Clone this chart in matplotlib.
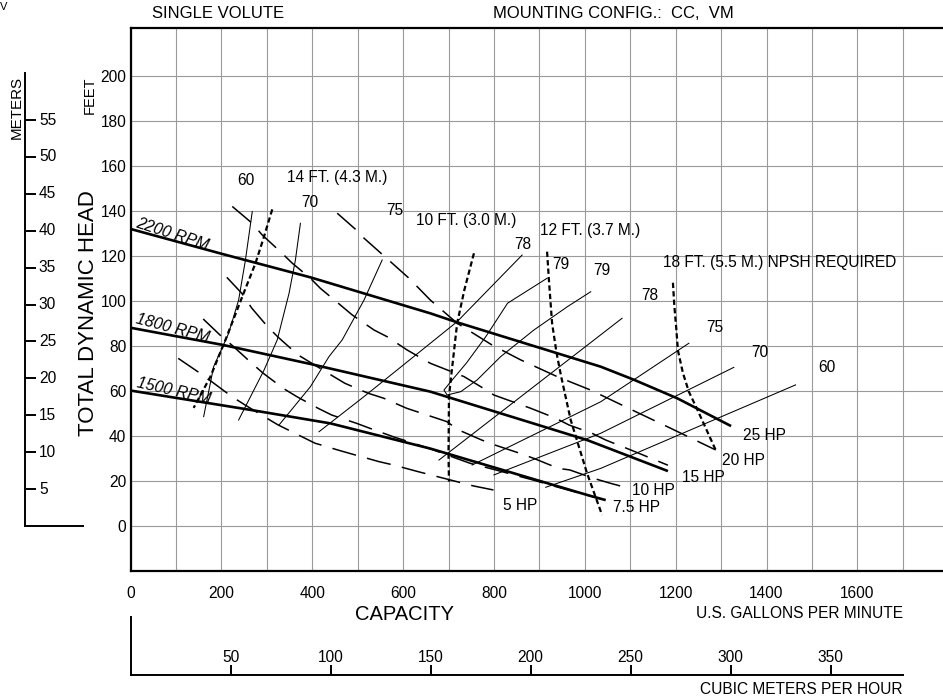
import matplotlib.pyplot as plt
from matplotlib.ticker import MultipleLocator
import numpy as np

plt.rcParams['font.family'] = ['Liberation Sans', 'DejaVu Sans']

FT_PER_M = 3.2808
GPM_PER_M3H = 4.4029

# head / capacity curves (gpm, ft)
rpm_labels = ['2200 RPM', '1800 RPM', '1500 RPM']
rpm_2200_q = [0, 200, 396, 660, 719, 1035, 1108, 1204, 1322]
rpm_2200_h = [132, 121, 110.5, 94.5, 90.5, 70.8, 65, 56.7, 44.4]
rpm_1800_q = [0, 205, 396, 660, 1005, 1183]
rpm_1800_h = [88.1, 80.4, 72, 59.7, 38.2, 24.4]
rpm_1500_q = [0, 264, 440, 660, 1005, 1046]
rpm_1500_h = [60.2, 51.6, 45.6, 34.4, 13.8, 11.5]

# npsh required
npsh_labels = ['14 FT. (4.3 M.)', '10 FT. (3.0 M.)', '12 FT. (3.7 M.)', '18 FT. (5.5 M.) NPSH REQUIRED']
npsh_14_q = [312, 293, 275, 246, 209, 176, 139]
npsh_14_h = [140.7, 128, 116.7, 101.9, 82.7, 66.4, 52.5]
npsh_10_q = [756, 735, 719, 705, 701, 700, 701]
npsh_10_h = [121.2, 105, 90.1, 65, 57.5, 32, 19.7]
npsh_12_q = [917, 921, 928, 938, 948, 969, 1005, 1038]
npsh_12_h = [121.9, 109.3, 90.1, 76.7, 66.4, 47.1, 23.4, 4.9]
npsh_18_q = [1194, 1197, 1201, 1205, 1216, 1229, 1248, 1288]
npsh_18_h = [108.1, 98, 88.6, 78, 68, 59.7, 51.6, 33.8]

# efficiency contours
eff_60l_q = [268, 253, 238, 216, 183, 161]
eff_60l_h = [139.7, 118.2, 100.4, 85.6, 70.8, 48.6]
eff_70l_q = [374, 363, 349, 323, 294, 238]
eff_70l_h = [134.5, 118.2, 103.4, 82.7, 69.3, 47.1]
eff_75l_q = [554, 514, 466, 437, 396, 327]
eff_75l_h = [118.2, 100.4, 82.7, 75.3, 61.9, 44.9]
eff_78l_q = [862, 719, 660, 514, 415]
eff_78l_h = [120.4, 90.8, 81.2, 57.5, 41.9]
eff_79_q = [917, 830, 783, 739, 702, 690, 697, 727, 763, 815, 888, 962, 1013]
eff_79_h = [110.1, 99, 84.4, 72.3, 63.4, 60.4, 58.2, 59.7, 64.9, 75.3, 87.1, 97.5, 104.1]
eff_78r_q = [1082, 679]
eff_78r_h = [92.3, 29.3]
eff_75r_q = [1229, 1035, 752]
eff_75r_h = [81.2, 55.2, 27.1]
eff_70r_q = [1328, 1035, 800]
eff_70r_h = [70.5, 41.2, 22.7]
eff_60r_q = [1464, 1035, 914]
eff_60r_h = [62.7, 25.6, 17.2]
eff_text = ['60', '70', '75', '78', '79', '79', '78', '75', '70', '60']
eff_text_q = [254, 394, 582, 863, 947, 1037, 1143, 1286, 1386, 1532]
eff_text_h = [153.7, 143.8, 140.1, 125.2, 116.4, 113.4, 102.3, 88.3, 77.1, 70.4]

# horsepower lines
hp_20_q = [455, 495, 514, 572, 613, 660, 719, 796, 859, 939, 1013, 1112, 1182, 1288]
hp_20_h = [139, 131.9, 127.9, 117.5, 110.1, 100.4, 90.1, 80.4, 73.8, 66.4, 60.4, 50.8, 44.1, 33.8]
hp_15_q = [224, 268, 290, 330, 356, 396, 418, 462, 488, 536, 565, 609, 660, 734, 771, 800,
           851, 881, 936, 965, 1016, 1046, 1101, 1183]
hp_15_h = [142, 134.5, 129.3, 121.9, 116.8, 110.1, 105.6, 98.2, 93.8, 87.1, 84.1, 78.2, 72.3,
           66.4, 61.9, 58.2, 54.5, 52.3, 47.9, 44.9, 41.2, 38.2, 33.8, 27]
hp_10_q = [212, 245, 267, 303, 325, 369, 443, 472, 523, 557, 608, 641, 696, 722, 773, 802,
           857, 887, 942, 967, 1019, 1056, 1089]
hp_10_h = [110.5, 103.4, 96.8, 88.3, 83.9, 76, 66.9, 63.4, 59, 56.8, 52.3, 50.1, 46.4, 42.7,
           38.2, 36, 32.3, 30.1, 25.6, 24.9, 21.2, 19, 17.2]
hp_75_q = [160, 201, 223, 267, 292, 336, 366, 413, 443, 498, 527, 582, 612, 667, 696, 747,
           806, 857, 887, 931, 1037]
hp_75_h = [92, 84.1, 80.4, 72.3, 67.9, 61.2, 57.5, 52.3, 49.3, 45.6, 43.4, 39.4, 37.5, 33.8,
           31.6, 27.9, 24.8, 22, 20.4, 17.8, 11.9]
hp_5_q = [105, 153, 179, 223, 252, 300, 325, 377, 406, 461, 494, 547, 579, 634, 755, 799]
hp_5_h = [74.5, 67.9, 64.1, 57.5, 53.8, 47.9, 44.9, 39.7, 36.8, 33.5, 31.6, 28.6, 27.1, 24.1,
          17.8, 16]
hp_text = ['25 HP', '20 HP', '15 HP', '10 HP', '7.5 HP', '5 HP']
hp_text_q = [1349, 1301, 1213, 1104, 1063, 821]
hp_text_h = [40.2, 29.2, 21.6, 15.6, 8.2, 8.98]

x_ticks = [0, 200, 400, 600, 800, 1000, 1200, 1400, 1600]
y_ticks = [0, 20, 40, 60, 80, 100, 120, 140, 160, 180, 200]
m_ticks = [5, 10, 15, 20, 25, 30, 35, 40, 45, 50, 55]
m3h_ticks = [50, 100, 150, 200, 250, 300, 350]

W, H = 943, 700


def px(x, y):
    return x / W, 1 - y / H


fig = plt.figure(figsize=(W / 100, H / 100), dpi=100)
ax = fig.add_axes([130.5 / W, 129 / H, (W - 130.5) / W, 543 / H])
ax.set_xlim(0, (W - 130.5) / 0.4543)
ax.set_ylim(-20, 221.3)
for s in ['left', 'top', 'bottom']:
    ax.spines[s].set_linewidth(1.6)
ax.spines['right'].set_visible(False)
ax.set_xticks(x_ticks)
ax.set_yticks(y_ticks)
ax.xaxis.set_minor_locator(MultipleLocator(100))
ax.grid(True, which='both', color='#9a9a9a', lw=0.8)
ax.tick_params(which='both', length=0, labelsize=11.2)
ax.tick_params(axis='x', pad=11)
ax.tick_params(axis='y', pad=3)
ax.set_axisbelow(True)

head_kw = dict(color='black', lw=1.9, solid_capstyle='butt')
ax.plot(rpm_2200_q, rpm_2200_h, **head_kw)
ax.plot(rpm_1800_q, rpm_1800_h, **head_kw)
ax.plot(rpm_1500_q, rpm_1500_h, **head_kw)
ax.text(9.9, 132.9, rpm_labels[0], rotation=-18, rotation_mode='anchor', style='italic', fontsize=11.5)
ax.text(9.9, 90.2, rpm_labels[1], rotation=-15, rotation_mode='anchor', style='italic', fontsize=11.5)
ax.text(13.2, 61.8, rpm_labels[2], rotation=-13, rotation_mode='anchor', style='italic', fontsize=11.5)

npsh_kw = dict(color='black', lw=1.6, dashes=(2.4, 1.4))
ax.plot(npsh_14_q, npsh_14_h, **npsh_kw)
ax.plot(npsh_10_q, npsh_10_h, **npsh_kw)
ax.plot(npsh_12_q, npsh_12_h, **npsh_kw)
ax.plot(npsh_18_q, npsh_18_h, **npsh_kw)
ax.text(456, 154.7, npsh_labels[0], ha='center', va='center', fontsize=11.2)
ax.text(740, 135.6, npsh_labels[1], ha='center', va='center', fontsize=11.2)
ax.text(1012, 131.2, npsh_labels[2], ha='center', va='center', fontsize=11.2)
ax.text(1173, 117, npsh_labels[3], ha='left', va='center', fontsize=11.2)

eff_kw = dict(color='black', lw=0.75)
for q, h in [(eff_60l_q, eff_60l_h), (eff_70l_q, eff_70l_h), (eff_75l_q, eff_75l_h),
             (eff_78l_q, eff_78l_h), (eff_79_q, eff_79_h), (eff_78r_q, eff_78r_h),
             (eff_75r_q, eff_75r_h), (eff_70r_q, eff_70r_h), (eff_60r_q, eff_60r_h)]:
    ax.plot(q, h, **eff_kw)
for t, q, h in zip(eff_text, eff_text_q, eff_text_h):
    ax.text(q, h, t, ha='center', va='center', fontsize=11.2)

hp_kw = dict(color='black', lw=1.1, dashes=(16, 7.5))
for q, h in [(hp_20_q, hp_20_h), (hp_15_q, hp_15_h), (hp_10_q, hp_10_h),
             (hp_75_q, hp_75_h), (hp_5_q, hp_5_h)]:
    ax.plot(q, h, **hp_kw)
for t, q, h in zip(hp_text, hp_text_q, hp_text_h):
    ax.text(q, h, t, ha='left', va='center', fontsize=11.2)

# meters scale on the far left
ax_m = fig.add_axes([25 / W, 174 / H, 58 / W, 498 / H])
ax_m.set_ylim(0, 498 / 2.25 / FT_PER_M)
ax_m.patch.set_visible(False)
for s in ['top', 'right']:
    ax_m.spines[s].set_visible(False)
ax_m.spines['left'].set_bounds(0, 453 / 2.25 / FT_PER_M)
ax_m.spines['left'].set_linewidth(1.4)
ax_m.spines['bottom'].set_linewidth(1.4)
ax_m.set_xticks([])
ax_m.set_yticks(m_ticks)
ax_m.tick_params(axis='y', direction='in', length=8, width=1.4, labelleft=False)
for m in m_ticks:
    ax_m.text(0.24, m, str(m), transform=ax_m.get_yaxis_transform(), ha='left', va='center', fontsize=11.2)

# cubic meters per hour scale at the bottom
ax_c = fig.add_axes([130.5 / W, 25 / H, (W - 130.5) / W, 58 / H])
ax_c.set_xlim(0, (W - 130.5) / 0.4543 / GPM_PER_M3H)
ax_c.patch.set_visible(False)
for s in ['top', 'right']:
    ax_c.spines[s].set_visible(False)
ax_c.spines['bottom'].set_bounds(0, 1700 / GPM_PER_M3H)
ax_c.spines['bottom'].set_linewidth(1.4)
ax_c.spines['left'].set_linewidth(1.4)
ax_c.set_yticks([])
ax_c.set_xticks(m3h_ticks)
ax_c.tick_params(axis='x', direction='in', length=7.5, width=1.4, labelbottom=False)
for v in m3h_ticks:
    ax_c.text(v, 0.31, str(v), transform=ax_c.get_xaxis_transform(), ha='center', va='center', fontsize=11.2)

fig.text(*px(151.7, 13.5), 'SINGLE VOLUTE', ha='left', va='center', fontsize=12)
fig.text(*px(493, 13.5), 'MOUNTING CONFIG.:  CC,  VM', ha='left', va='center', fontsize=12)
fig.text(*px(0, 7), 'V', ha='left', va='center', fontsize=8)
fig.text(*px(17, 107), 'METERS', rotation=90, ha='center', va='center', fontsize=10.9)
fig.text(*px(89.5, 95), 'FEET', rotation=90, ha='center', va='center', fontsize=10.5)
fig.text(*px(88, 313), 'TOTAL DYNAMIC HEAD', rotation=90, ha='center', va='center', fontsize=16)
fig.text(*px(405, 614), 'CAPACITY', ha='center', va='center', fontsize=14.5)
fig.text(*px(903, 614), 'U.S. GALLONS PER MINUTE', ha='right', va='center', fontsize=11.2)
fig.text(*px(903, 690), 'CUBIC METERS PER HOUR', ha='right', va='center', fontsize=11.2)

fig.savefig('out.png', dpi=100)
